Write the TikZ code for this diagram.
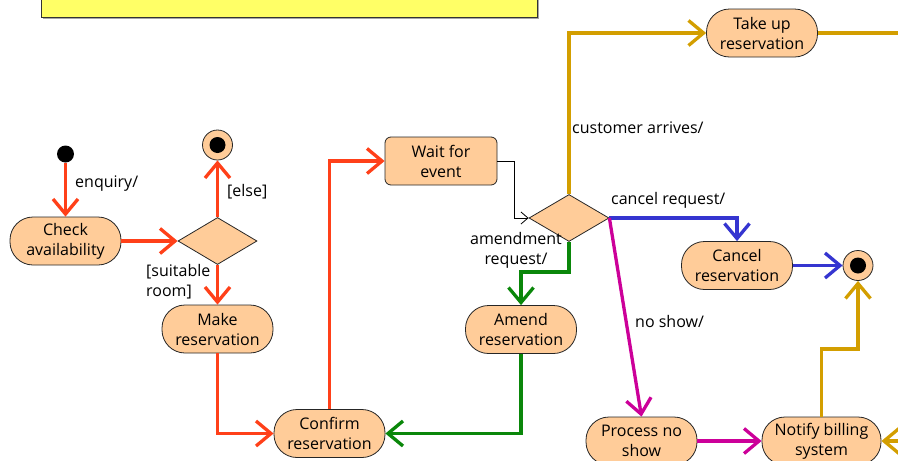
\documentclass[tikz,border=0pt]{standalone}
\usepackage{fontspec}
\setmainfont{Open Sans}
\usetikzlibrary{arrows.meta,shapes.geometric,calc}
\definecolor{peach}{HTML}{FFCC99}
\definecolor{notey}{HTML}{FFFF66}
\definecolor{cred}{HTML}{FF4019}
\definecolor{cgold}{HTML}{D39E00}
\definecolor{cblue}{HTML}{3535D0}
\definecolor{cgreen}{HTML}{0A870A}
\definecolor{cmag}{HTML}{CC0099}
\begin{document}
\begin{tikzpicture}[x=1pt,y=-1pt,
  every node/.style={font=\fontsize{16}{20}\selectfont},
  act/.style={draw=black!85, line width=0.8pt, fill=peach, rounded corners=23pt,
    minimum width=111pt, minimum height=48pt, align=center, inner sep=0pt},
  dec/.style={diamond, draw=black!85, line width=0.8pt, fill=peach, inner sep=0pt,
    minimum width=79pt, minimum height=47pt},
  initst/.style={circle, fill=black, inner sep=0pt, minimum size=17pt},
  finst/.style={circle, draw=black!85, line width=0.8pt, fill=peach, inner sep=0pt, minimum size=30pt,
    path picture={\fill[black] (path picture bounding box.center) circle (8pt);}},
  lbl/.style={inner sep=0pt},
  flow/.style={line width=3.3pt, -{Straight Barb[length=15pt,width=25pt]}},
  plain/.style={line width=3.3pt}
]
\useasboundingbox (0,0) rectangle (898,461);
\clip (0,0) rectangle (898,461);
% note box (cut off at top)
\fill[black!35] (43,-20) rectangle (539,19);
\draw[fill=notey, draw=black!80, line width=0.8pt] (41,-20) rectangle (537,17);

% nodes
\node[initst] (init) at (65.5,154) {};
\node[act] (check) at (65.5,241) {Check\\availability};
\node[dec] (d1) at (217.5,241) {};
\node[finst] (fin1) at (217.5,145) {};
\node[act] (make) at (217.5,329) {Make\\reservation};
\node[act] (confirm) at (329.5,433.5) {Confirm\\reservation};
\node[act, rounded corners=6pt, minimum width=112pt] (wait) at (441,161) {Wait for\\event};
\node[dec, minimum width=80pt] (d2) at (569,218) {};
\node[act] (takeup) at (762,33) {Take up\\reservation};
\node[act] (cancel) at (737,265.5) {Cancel\\reservation};
\node[finst] (fin2) at (858,265.5) {};
\node[act] (amend) at (521,329.5) {Amend\\reservation};
\node[act] (noshow) at (641.5,441) {Process no\\show};
\node[act, minimum width=119pt] (notify) at (821.5,441) {Notify billing\\system};

% free ends / bends
\coordinate (wj) at (514,161);
\coordinate (g1) at (569,272);
\coordinate (n1) at (858,349);
\coordinate (tuEnd) at (905,33);
\coordinate (nbIn) at (905,441);

% labels
\node[lbl, anchor=west] (lenq) at (75,184) {enquiry/};
\node[lbl, anchor=west] (lelse) at (227,192) {[else]};
\node[lbl, anchor=west, align=left] (lsuit) at (146,282) {[suitable\\room]};
\node[lbl, align=center] (lamend) at (516,250) {amendment\\request/};
\node[lbl, anchor=west] (lcust) at (572,128) {customer arrives/};
\node[lbl, anchor=west] (lcanc) at (611,200) {cancel request/};
\node[lbl, anchor=west] (lnosh) at (635,321) {no show/};

% red connectors
\draw[flow, cred] (init) -- (check);
\draw[flow, cred] (check) -- (d1);
\draw[flow, cred] (d1) -- (fin1);
\draw[flow, cred] (d1) -- (make);
\draw[flow, cred] (make.south) |- (confirm.west);
\draw[flow, cred] (confirm.north) |- (wait.west);
% black connector
\draw[line width=0.8pt, -{Straight Barb[length=7pt,width=12pt]}] (wait.east) -- (wj) |- (d2.west);
% gold
\draw[flow, cgold] (d2.north) |- (takeup.west);
\draw[plain, cgold] (takeup.east) -- (tuEnd);
\draw[flow, cgold] (notify.north) |- (n1) -- (fin2.south);
\draw[flow, cgold] (nbIn) -- (notify.east);
% blue
\draw[flow, cblue] (d2.east) -| (cancel.north);
\draw[flow, cblue] (cancel.east) -- (fin2.west);
% green
\draw[flow, cgreen] (d2.south) -- (g1) -| (amend.north);
\draw[flow, cgreen] (amend.south) |- (confirm.east);
% magenta
\draw[flow, cmag] (d2.east) -- (noshow.north);
\draw[flow, cmag] (noshow.east) -- (notify.west);
\end{tikzpicture}
\end{document}
